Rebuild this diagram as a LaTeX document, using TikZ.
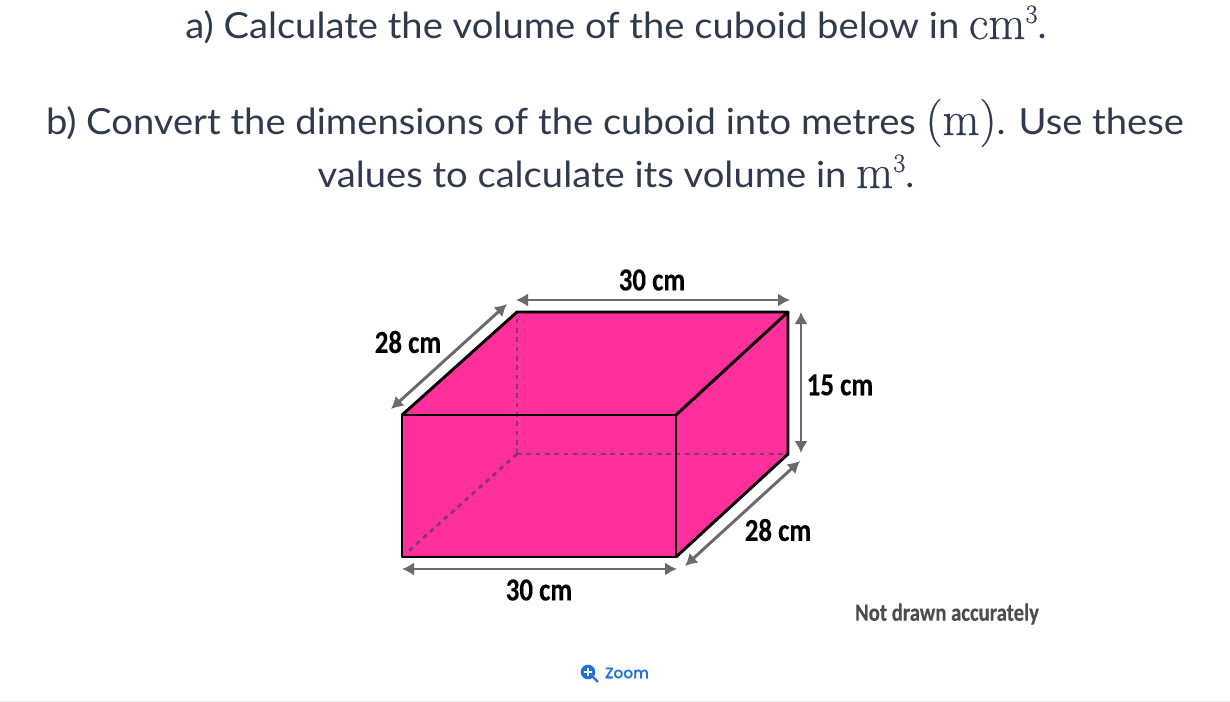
\documentclass[tikz,border=0pt]{standalone}
\usepackage{amsmath}
\usepackage{fontspec}
\usepackage{tikz}
\usetikzlibrary{arrows.meta,calc}
\setmainfont[FakeStretch=1.06]{Lato}
\newfontfamily\labelfont[FakeStretch=0.84,FakeBold=0.2]{Carlito Bold}
\newfontfamily\zoomfont[FakeBold=0.3]{Poppins Medium}
\newfontfamily\unitfont[FakeBold=0.5]{Latin Modern Roman}
\newcommand{\unittext}[1]{{\unitfont\fontsize{36}{40}\selectfont #1}}
\newcommand{\unitcube}{\raisebox{12pt}{\unitfont\fontsize{20}{24}\selectfont 3}}
\definecolor{cuboidpink}{HTML}{FF2F9C}
\definecolor{dimgrey}{HTML}{6A6A6A}
\definecolor{hiddenline}{HTML}{85386C}
\definecolor{titleink}{HTML}{2F3A4E}
\definecolor{zoomblue}{HTML}{2272D8}
\definecolor{footrule}{HTML}{ECEEF1}
\tikzset{
	question/.style={text=titleink, font=\fontsize{27}{30}\selectfont, inner sep=0pt},
	dimlabel/.style={font=\labelfont\fontsize{24}{26}\selectfont, inner sep=0pt},
	dimline/.style={draw=dimgrey, line width=2.2pt, {Latex[length=9pt,width=10pt]}-{Latex[length=9pt,width=10pt]}},
	hidden/.style={draw=hiddenline, line width=2.1pt, dash pattern=on 3.5pt off 3.5pt},
	edge/.style={draw=black, line width=2.2pt, line join=round}
}

\begin{document}
\begin{tikzpicture}[x=0.75pt,y=-0.75pt]
	\useasboundingbox (0,0) rectangle (1230,702);
	
	\node[question, anchor=base] (parta) at (616,39) {a) Calculate the volume of the cuboid below in \unittext{cm}\unitcube.};
	\node[question, anchor=base] (partb) at (615,135) {b) Convert the dimensions of the cuboid into metres \unittext{(m)}. Use these};
	\node[question, anchor=base] (partc) at (616,188) {values to calculate its volume in \unittext{m}\unitcube.};
	
	\coordinate (A) at (402,557);
	\coordinate (B) at (676,557);
	\coordinate (C) at (676,415);
	\coordinate (D) at (402,415);
	\coordinate (A') at (517,454);
	\coordinate (B') at (788,454);
	\coordinate (C') at (788,312);
	\coordinate (D') at (517,312);
	
	\fill[cuboidpink] (A) -- (B) -- (B') -- (C') -- (D') -- (D) -- cycle;
	
	\draw[hidden] (A') -- (D');
	\draw[hidden] (A') -- (B');
	\draw[hidden] (A') -- ($(A)!0.04!(A')$);
	
	\draw[edge] (A) -- (B) -- (C) -- (D) -- cycle;
	\draw[edge] (D) -- (D') -- (C') -- (C);
	\draw[edge] (C') -- (B') -- (B);
	
	% dimension arrows
	\coordinate (topL) at (516,300);
	\coordinate (topR) at (790,300);
	\coordinate (sideT) at (801,312);
	\coordinate (sideB) at (801,453);
	\coordinate (leftL) at (391,409);
	\coordinate (leftR) at (507,304);
	\coordinate (rightL) at (685,566);
	\coordinate (rightR) at (800,461);
	\coordinate (baseL) at (402,569);
	\coordinate (baseR) at (677,569);
	\draw[dimline] (topL) -- (topR);
	\draw[dimline] (sideT) -- (sideB);
	\draw[dimline] (leftL) -- (leftR);
	\draw[dimline] (rightL) -- (rightR);
	\draw[dimline] (baseL) -- (baseR);
	
	\node[dimlabel] (topW) at (652,280) {30 cm};
	\node[dimlabel] (leftD) at (408,342) {28 cm};
	\node[dimlabel] (sideH) at (840,385) {15 cm};
	\node[dimlabel] (rightD) at (778,530) {28 cm};
	\node[dimlabel] (baseW) at (539,590) {30 cm};
	\node[dimlabel, text=black!70, font=\labelfont\fontsize{18.5}{20}\selectfont] (note) at (947,614) {Not drawn accurately};
	
	% zoom link
	\node[text=zoomblue, font=\zoomfont\fontsize{11.5}{14}\selectfont, inner sep=0pt] (zoom) at (627,673) {Zoom};
	\coordinate (lens) at (588,672);
	\fill[zoomblue] (lens) circle (5.5pt);
	\draw[zoomblue, line width=1.7pt, line cap=round] (lens) ++(5,5) -- ++(4.5,4.5);
	\draw[white, line width=1.2pt] (lens) ++(-4,0) -- ++(8,0);
	\draw[white, line width=1.2pt] (lens) ++(0,-4) -- ++(0,8);
	
	\draw[footrule, line width=0.75pt] (0,701) -- (1230,701);
\end{tikzpicture}
\end{document}
